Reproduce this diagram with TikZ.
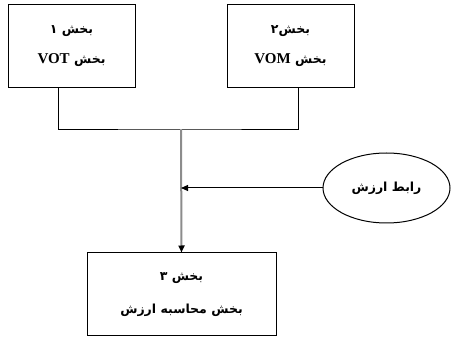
\documentclass[tikz,border=0pt]{standalone}
\usepackage{fontspec}
\setmainfont{Liberation Serif}
\newfontfamily\arabicfont[Script=Arabic]{DejaVu Sans}
\usetikzlibrary{shapes.geometric,arrows.meta}
\TeXXeTstate=1
\tikzset{
  block/.style={draw,line width=1pt,minimum width=127pt,minimum height=83pt,align=center,
    font=\arabicfont\bfseries\fontsize{12.5}{15}\selectfont},
  link/.style={draw,ellipse,line width=1pt,minimum width=127pt,minimum height=70pt,
    font=\arabicfont\bfseries\fontsize{12.5}{15}\selectfont},
  tip/.style={-{Triangle[length=7pt,width=6pt,black]}}
}
\newcommand{\lat}[1]{\beginL{\rmfamily\bfseries\fontsize{15}{17}\selectfont #1}\endL}

\begin{document}
\begin{tikzpicture}[x=1pt,y=-1pt]
  \useasboundingbox (0,0) rectangle (451,337);
  \node[block] (vot) at (71.5,46.5) {\beginR بخش ۱\endR\\[15pt]\beginR بخش \lat{VOT}\endR};
  \node[block] (vom) at (290.5,46.5) {\beginR بخش۲\endR\\[15pt]\beginR بخش \lat{VOM}\endR};
  \node[block,minimum width=189pt] (calc) at (181.5,294.5) {\beginR بخش ۳\endR\\[18pt]\beginR بخش محاسبه ارزش\endR};
  \node[link] (rel) at (386.5,188) {\beginR رابط ارزش\endR};
  \coordinate (join) at (181,130);
  \draw[line width=1pt] ([xshift=-13.5pt]vot.south) |- (join) -| ([xshift=7.5pt]vom.south);
  \draw[tip,black!45,line width=2pt] (join) -- (calc.north);
  \draw[tip,line width=1pt] (rel.west) -- (rel.west -| join);
\end{tikzpicture}
\end{document}
